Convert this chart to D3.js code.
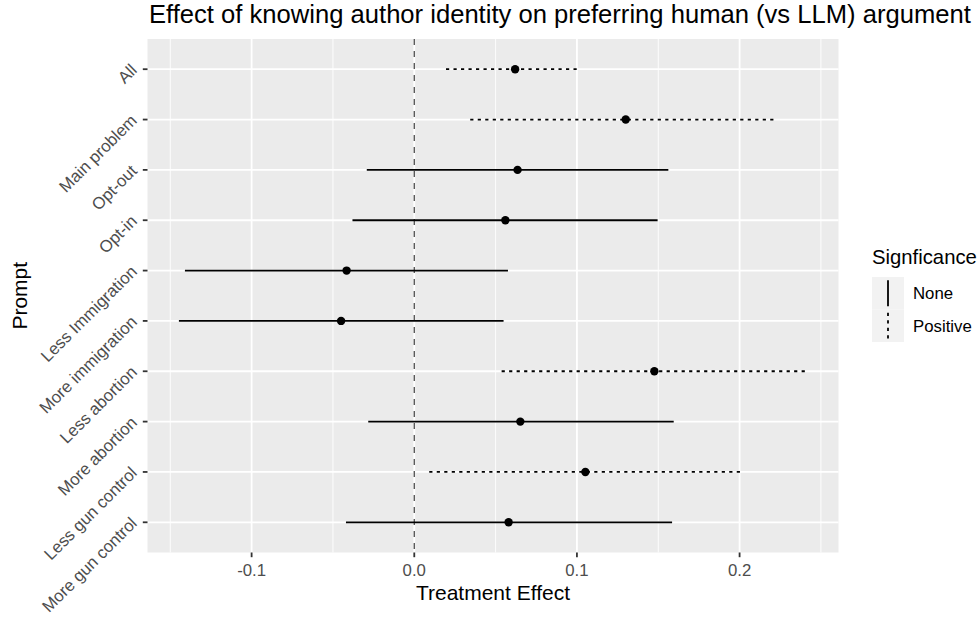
<!DOCTYPE html>
<html>
<head>
<meta charset="utf-8">
<script src="https://cdn.jsdelivr.net/npm/d3@7"></script>
<style>
  body { margin: 0; background: #fff; }
  text { font-family: "Liberation Sans", Arial, sans-serif; }
</style>
</head>
<body>
<div id="chart"></div>
<script>
// data
const prompts = ['All', 'Main problem', 'Opt-out', 'Opt-in', 'Less Immigration',
    'More immigration', 'Less abortion', 'More abortion', 'Less gun control', 'More gun control'];
const estimates = [0.062, 0.130, 0.0635, 0.056, -0.0416, -0.045, 0.1476, 0.0652, 0.1052, 0.058];
const lowers = [0.0195, 0.0344, -0.0292, -0.038, -0.141, -0.1447, 0.0537, -0.0283, 0.0092, -0.042];
const uppers = [0.102, 0.222, 0.1562, 0.1496, 0.0576, 0.0549, 0.2415, 0.1595, 0.2013, 0.1585];
const significance = ['Positive', 'Positive', 'None', 'None', 'None',
    'None', 'Positive', 'None', 'Positive', 'None'];
const sigLevels = ['None', 'Positive'];
const xTicks = [-0.1, 0, 0.1, 0.2];
const xMinorTicks = [-0.15, -0.05, 0.05, 0.15, 0.25];

const W = 979, H = 617;
const panel = { left: 147.5, right: 838.5, top: 39, bottom: 552.5 };
const dashFor = { None: null, Positive: '3.2,4.3' };

const rows = prompts.map((p, i) => ({
    prompt: p, est: estimates[i], lo: lowers[i], hi: uppers[i], sig: significance[i]
}));

const svg = d3.select('#chart').append('svg')
    .attr('width', W).attr('height', H);

// x scale with ggplot style 5% expansion
const [dMin, dMax] = [d3.min(lowers), d3.max(uppers)];
const pad = (dMax - dMin) * 0.05;
const x = d3.scaleLinear()
    .domain([dMin - pad, dMax + pad])
    .range([panel.left, panel.right]);

// discrete y, 0.6 units padding either side
const y = d3.scalePoint()
    .domain(prompts)
    .range([panel.top, panel.bottom])
    .padding(0.6);

// panel background
svg.append('rect')
    .attr('x', panel.left).attr('y', panel.top)
    .attr('width', panel.right - panel.left)
    .attr('height', panel.bottom - panel.top)
    .attr('fill', '#ebebeb');

// grid
const grid = svg.append('g');
grid.selectAll('.minor')
    .data(xMinorTicks.filter(t => x(t) > panel.left && x(t) < panel.right))
    .join('line')
    .attr('x1', d => x(d)).attr('x2', d => x(d))
    .attr('y1', panel.top).attr('y2', panel.bottom)
    .attr('stroke', '#fff').attr('stroke-width', 0.9);
grid.selectAll('.majorx')
    .data(xTicks)
    .join('line')
    .attr('x1', d => x(d)).attr('x2', d => x(d))
    .attr('y1', panel.top).attr('y2', panel.bottom)
    .attr('stroke', '#fff').attr('stroke-width', 1.8);
grid.selectAll('.majory')
    .data(prompts)
    .join('line')
    .attr('x1', panel.left).attr('x2', panel.right)
    .attr('y1', d => y(d)).attr('y2', d => y(d))
    .attr('stroke', '#fff').attr('stroke-width', 1.8);

// zero reference line
svg.append('line')
    .attr('x1', x(0)).attr('x2', x(0))
    .attr('y1', panel.top).attr('y2', panel.bottom)
    .attr('stroke', '#4d4d4d').attr('stroke-width', 1.3)
    .attr('stroke-dasharray', '6,6');

// intervals
svg.selectAll('.range')
    .data(rows)
    .join('line')
    .attr('x1', d => x(d.lo)).attr('x2', d => x(d.hi))
    .attr('y1', d => y(d.prompt)).attr('y2', d => y(d.prompt))
    .attr('stroke', '#000').attr('stroke-width', 1.8)
    .attr('stroke-dasharray', d => dashFor[d.sig]);

svg.selectAll('.pt')
    .data(rows)
    .join('circle')
    .attr('cx', d => x(d.est)).attr('cy', d => y(d.prompt))
    .attr('r', 4.2).attr('fill', '#000');

// x axis
const xAxis = svg.append('g');
xAxis.selectAll('line')
    .data(xTicks)
    .join('line')
    .attr('x1', d => x(d)).attr('x2', d => x(d))
    .attr('y1', panel.bottom).attr('y2', panel.bottom + 4.7)
    .attr('stroke', '#333').attr('stroke-width', 1.8);
xAxis.selectAll('text')
    .data(xTicks)
    .join('text')
    .attr('x', d => x(d)).attr('y', 575.5)
    .attr('text-anchor', 'middle')
    .attr('font-size', 16.8).attr('fill', '#4d4d4d')
    .text(d => d3.format('.1f')(d).replace('\u2212', '-'));

// y axis
const yAxis = svg.append('g');
yAxis.selectAll('line')
    .data(prompts)
    .join('line')
    .attr('x1', panel.left - 4.7).attr('x2', panel.left)
    .attr('y1', d => y(d)).attr('y2', d => y(d))
    .attr('stroke', '#333').attr('stroke-width', 1.8);
yAxis.selectAll('text')
    .data(prompts)
    .join('text')
    .attr('transform', d => `translate(138,${y(d) + 2}) rotate(-45)`)
    .attr('text-anchor', 'end')
    .attr('font-size', 16.8).attr('fill', '#4d4d4d')
    .text(d => d);

// titles
svg.append('text')
    .attr('x', 149).attr('y', 23)
    .attr('font-size', 25.6).attr('fill', '#000')
    .text('Effect of knowing author identity on preferring human (vs LLM) argument');

svg.append('text')
    .attr('x', (panel.left + panel.right) / 2).attr('y', 600)
    .attr('text-anchor', 'middle')
    .attr('font-size', 21).attr('fill', '#000')
    .text('Treatment Effect');

svg.append('text')
    .attr('transform', `translate(27,${(panel.top + panel.bottom) / 2}) rotate(-90)`)
    .attr('text-anchor', 'middle')
    .attr('font-size', 21).attr('fill', '#000')
    .text('Prompt');

// legend
const legend = svg.append('g').attr('transform', 'translate(872,0)');
legend.append('text')
    .attr('x', 0).attr('y', 264)
    .attr('font-size', 20.3).attr('fill', '#000')
    .text('Signficance');

const keyH = 32.5, keyW = 32, keyTop = 277;
const keys = legend.selectAll('.key')
    .data(sigLevels)
    .join('g')
    .attr('transform', (d, i) => `translate(0,${keyTop + i * keyH})`);
keys.append('rect')
    .attr('width', keyW).attr('height', keyH)
    .attr('fill', '#f2f2f2');
keys.append('line')
    .attr('x1', keyW / 2).attr('x2', keyW / 2)
    .attr('y1', keyH * 0.1).attr('y2', keyH * 0.9)
    .attr('stroke', '#000').attr('stroke-width', 1.8)
    .attr('stroke-dasharray', d => dashFor[d]);
keys.append('text')
    .attr('x', keyW + 9).attr('y', keyH / 2 + 6)
    .attr('font-size', 16.8).attr('fill', '#000')
    .text(d => d);
</script>
</body>
</html>
